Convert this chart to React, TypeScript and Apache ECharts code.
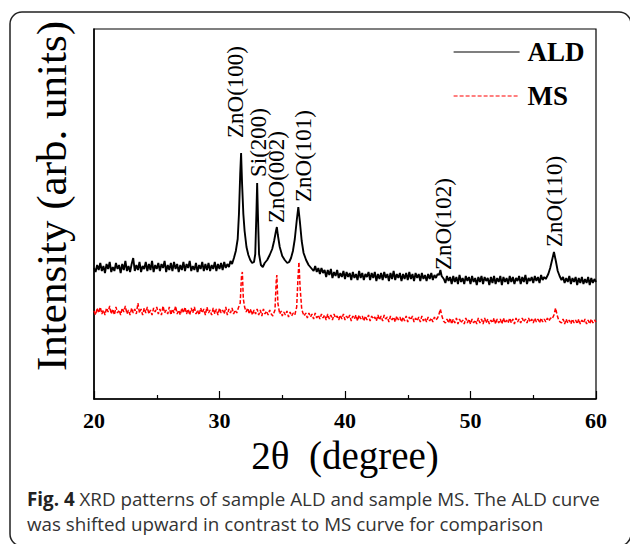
import React, { useEffect, useRef } from "react";
import * as echarts from "echarts";

// ALD curve (shifted upward): 2θ (degrees) and intensity (arb. units)
const aldTheta = [
  20.0, 20.125, 20.25, 20.375, 20.5, 20.625, 20.75, 20.875,
  21.0, 21.125, 21.25, 21.375, 21.5, 21.625, 21.75, 21.875,
  22.0, 22.125, 22.25, 22.375, 22.5, 22.625, 22.75, 22.875,
  23.0, 23.125, 23.25, 23.375, 23.5, 23.625, 23.75, 23.875,
  24.0, 24.125, 24.25, 24.375, 24.5, 24.625, 24.75, 24.875,
  25.0, 25.125, 25.25, 25.375, 25.5, 25.625, 25.75, 25.875,
  26.0, 26.125, 26.25, 26.375, 26.5, 26.625, 26.75, 26.875,
  27.0, 27.125, 27.25, 27.375, 27.5, 27.625, 27.75, 27.875,
  28.0, 28.125, 28.25, 28.375, 28.5, 28.625, 28.75, 28.875,
  29.0, 29.125, 29.25, 29.375, 29.5, 29.625, 29.75, 29.875,
  30.0, 30.125, 30.25, 30.375, 30.5, 30.625, 30.75, 30.875,
  31.0,
  31.15, 31.3, 31.45, 31.55, 31.65, 31.72, 31.8, 31.9,
  32.0, 32.15, 32.3, 32.45, 32.6, 32.75, 32.85, 32.95,
  33.0, 33.06, 33.15, 33.3, 33.45, 33.6, 33.8, 34.0,
  34.2, 34.35, 34.5, 34.57, 34.65, 34.8, 35.0, 35.2,
  35.4, 35.55, 35.7, 35.85, 36.0, 36.15, 36.28, 36.4,
  36.55, 36.7, 36.9, 37.1, 37.3,
  37.5, 37.625, 37.75, 37.875, 38.0, 38.125, 38.25, 38.375,
  38.5, 38.625, 38.75, 38.875, 39.0, 39.125, 39.25, 39.375,
  39.5, 39.625, 39.75, 39.875, 40.0, 40.125, 40.25, 40.375,
  40.5, 40.625, 40.75, 40.875, 41.0, 41.125, 41.25, 41.375,
  41.5, 41.625, 41.75, 41.875, 42.0, 42.125, 42.25, 42.375,
  42.5, 42.625, 42.75, 42.875, 43.0, 43.125, 43.25, 43.375,
  43.5, 43.625, 43.75, 43.875, 44.0, 44.125, 44.25, 44.375,
  44.5, 44.625, 44.75, 44.875, 45.0, 45.125, 45.25, 45.375,
  45.5, 45.625, 45.75, 45.875, 46.0, 46.125, 46.25, 46.375,
  46.5, 46.625, 46.75, 46.875, 47.0, 47.125, 47.25, 47.375,
  47.5, 47.6, 47.7, 47.875,
  48.0, 48.125, 48.25, 48.375, 48.5, 48.625, 48.75, 48.875,
  49.0, 49.125, 49.25, 49.375, 49.5, 49.625, 49.75, 49.875,
  50.0, 50.125, 50.25, 50.375, 50.5, 50.625, 50.75, 50.875,
  51.0, 51.125, 51.25, 51.375, 51.5, 51.625, 51.75, 51.875,
  52.0, 52.125, 52.25, 52.375, 52.5, 52.625, 52.75, 52.875,
  53.0, 53.125, 53.25, 53.375, 53.5, 53.625, 53.75, 53.875,
  54.0, 54.125, 54.25, 54.375, 54.5, 54.625, 54.75, 54.875,
  55.0, 55.125, 55.25, 55.375, 55.5, 55.625, 55.75, 55.875,
  56.0,
  56.2, 56.35, 56.5, 56.65, 56.8, 56.95, 57.1,
  57.25, 57.375, 57.5, 57.625, 57.75, 57.875, 58.0, 58.125,
  58.25, 58.375, 58.5, 58.625, 58.75, 58.875, 59.0, 59.125,
  59.25, 59.375, 59.5, 59.625, 59.75, 59.875, 60.0,
];
const aldIntensity = [
  131, 127, 134, 129, 136, 128, 133, 126,
  135, 130, 137, 127, 132, 128, 136, 130,
  134, 126, 135, 129, 138, 128, 133, 127,
  135, 141, 128, 134, 129, 137, 127, 133,
  130, 137, 128, 135, 129, 138, 127, 134,
  130, 136, 128, 135, 131, 138, 127, 134,
  129, 136, 128, 137, 130, 135, 127, 134,
  129, 137, 128, 135, 131, 138, 128, 133,
  129, 136, 127, 134, 130, 137, 128, 135,
  129, 136, 128, 134, 130, 137, 128, 135,
  130, 136, 129, 137, 131, 135, 132, 138,
  135,
  141, 148, 160, 185, 225, 246, 215, 185,
  168, 152, 144, 139, 136, 137, 145, 190,
  216, 185, 145, 134, 132, 136, 139, 144,
  150, 158, 168, 172, 164, 152, 143, 139,
  136, 137, 141, 148, 160, 178, 192, 178,
  158, 146, 139, 134, 131,
  128, 133, 127, 131, 125, 131, 126, 129,
  122, 129, 124, 130, 121, 127, 123, 129,
  121, 126, 122, 128, 120, 127, 122, 126,
  119, 127, 121, 125, 119, 128, 121, 126,
  119, 125, 122, 127, 119, 126, 121, 127,
  118, 125, 120, 126, 119, 127, 121, 125,
  118, 126, 120, 128, 119, 125, 121, 126,
  118, 125, 120, 126, 119, 127, 120, 125,
  118, 126, 121, 125, 118, 126, 120, 124,
  118, 125, 120, 126, 119, 124, 121, 125,
  124, 129, 123, 120,
  116, 123, 118, 122, 115, 123, 117, 122,
  115, 124, 117, 121, 115, 123, 118, 122,
  115, 123, 117, 121, 114, 122, 117, 123,
  115, 122, 118, 121, 114, 122, 116, 123,
  115, 121, 117, 123, 114, 122, 117, 121,
  115, 123, 117, 122, 115, 121, 118, 123,
  115, 122, 117, 124, 115, 121, 118, 122,
  116, 123, 118, 122, 116, 124, 119, 122,
  120,
  125, 131, 139, 147, 138, 128, 123,
  119, 122, 116, 121, 117, 123, 115, 121,
  117, 122, 114, 121, 116, 122, 115, 120,
  116, 122, 114, 121, 116, 120, 117,
];

// MS curve: 2θ (degrees) and intensity (arb. units)
const msTheta = [
  20.0, 20.125, 20.25, 20.375, 20.5, 20.625, 20.75, 20.875,
  21.0, 21.125, 21.25, 21.375, 21.5, 21.625, 21.75, 21.875,
  22.0, 22.125, 22.25, 22.375, 22.5, 22.625, 22.75, 22.875,
  23.0, 23.125, 23.25, 23.375, 23.5, 23.625, 23.75, 23.875,
  24.0, 24.125, 24.25, 24.375, 24.5, 24.625, 24.75, 24.875,
  25.0, 25.125, 25.25, 25.375, 25.5, 25.625, 25.75, 25.875,
  26.0, 26.125, 26.25, 26.375, 26.5, 26.625, 26.75, 26.875,
  27.0, 27.125, 27.25, 27.375, 27.5, 27.625, 27.75, 27.875,
  28.0, 28.125, 28.25, 28.375, 28.5, 28.625, 28.75, 28.875,
  29.0, 29.125, 29.25, 29.375, 29.5, 29.625, 29.75, 29.875,
  30.0, 30.125, 30.25, 30.375, 30.5, 30.625, 30.75, 30.875,
  31.0, 31.125, 31.25, 31.375, 31.5,
  31.65, 31.75, 31.82, 31.9, 32.0, 32.125, 32.25, 32.375,
  32.5, 32.625, 32.75, 32.875, 33.0, 33.125, 33.25, 33.375,
  33.5, 33.625, 33.75, 33.875, 34.0, 34.125, 34.25, 34.42,
  34.52, 34.57, 34.65, 34.8, 34.925, 35.0, 35.125, 35.25,
  35.375, 35.5, 35.625, 35.75, 35.875, 36.0, 36.15, 36.25,
  36.33, 36.42, 36.55, 36.65, 36.75, 36.875,
  37.0, 37.125, 37.25, 37.375, 37.5, 37.625, 37.75, 37.875,
  38.0, 38.125, 38.25, 38.375, 38.5, 38.625, 38.75, 38.875,
  39.0, 39.125, 39.25, 39.375, 39.5, 39.625, 39.75, 39.875,
  40.0, 40.125, 40.25, 40.375, 40.5, 40.625, 40.75, 40.875,
  41.0, 41.125, 41.25, 41.375, 41.5, 41.625, 41.75, 41.875,
  42.0, 42.125, 42.25, 42.375, 42.5, 42.625, 42.75, 42.875,
  43.0, 43.125, 43.25, 43.375, 43.5, 43.625, 43.75, 43.875,
  44.0, 44.125, 44.25, 44.375, 44.5, 44.625, 44.75, 44.875,
  45.0, 45.125, 45.25, 45.375, 45.5, 45.625, 45.75, 45.875,
  46.0, 46.125, 46.25, 46.375, 46.5, 46.625, 46.75, 46.875,
  47.0, 47.125, 47.25, 47.375,
  47.45, 47.6, 47.7, 47.85,
  48.0, 48.125, 48.25, 48.375, 48.5, 48.625, 48.75, 48.875,
  49.0, 49.125, 49.25, 49.375, 49.5, 49.625, 49.75, 49.875,
  50.0, 50.125, 50.25, 50.375, 50.5, 50.625, 50.75, 50.875,
  51.0, 51.125, 51.25, 51.375, 51.5, 51.625, 51.75, 51.875,
  52.0, 52.125, 52.25, 52.375, 52.5, 52.625, 52.75, 52.875,
  53.0, 53.125, 53.25, 53.375, 53.5, 53.625, 53.75, 53.875,
  54.0, 54.125, 54.25, 54.375, 54.5, 54.625, 54.75, 54.875,
  55.0, 55.125, 55.25, 55.375, 55.5, 55.625, 55.75, 55.875,
  56.0, 56.125, 56.25, 56.375,
  56.5, 56.65, 56.78, 56.9, 57.05,
  57.25, 57.375, 57.5, 57.625, 57.75, 57.875, 58.0, 58.125,
  58.25, 58.375, 58.5, 58.625, 58.75, 58.875, 59.0, 59.125,
  59.25, 59.375, 59.5, 59.625, 59.75, 59.875, 60.0,
];
const msIntensity = [
  88, 84, 91, 86, 92, 85, 89, 84,
  91, 87, 93, 85, 90, 84, 92, 86,
  89, 84, 91, 87, 93, 85, 89, 84,
  91, 86, 90, 85, 96, 86, 90, 84,
  91, 86, 92, 85, 89, 84, 91, 87,
  92, 85, 90, 84, 93, 86, 89, 85,
  92, 84, 90, 86, 93, 85, 89, 84,
  91, 86, 92, 85, 90, 84, 91, 86,
  92, 85, 89, 84, 91, 86, 90, 84,
  92, 86, 89, 84, 91, 85, 90, 84,
  91, 86, 89, 85, 92, 84, 90, 86,
  91, 85, 89, 86, 91,
  96, 122, 127, 100, 92, 87, 91, 85,
  90, 84, 89, 85, 90, 84, 89, 83,
  90, 85, 88, 84, 89, 85, 83, 89,
  118, 124, 96, 85, 88, 83, 87, 84,
  88, 82, 87, 83, 86, 84, 92, 120,
  137, 112, 90, 86, 83, 86,
  81, 86, 82, 85, 80, 86, 81, 84,
  80, 85, 81, 84, 79, 85, 80, 84,
  79, 85, 81, 83, 79, 84, 80, 85,
  79, 83, 80, 84, 78, 83, 80, 84,
  78, 84, 80, 83, 78, 83, 79, 84,
  78, 83, 80, 82, 78, 84, 79, 83,
  78, 84, 80, 82, 77, 83, 79, 82,
  77, 83, 79, 82, 77, 82, 78, 83,
  77, 82, 79, 83, 77, 81, 78, 82,
  77, 83, 78, 81, 77, 82, 78, 81,
  77, 82, 79, 81,
  83, 90, 84, 78,
  76, 80, 76, 81, 75, 80, 76, 81,
  75, 80, 76, 79, 75, 81, 76, 80,
  75, 80, 76, 79, 75, 81, 76, 80,
  75, 81, 76, 80, 75, 79, 76, 81,
  75, 80, 76, 80, 75, 81, 76, 79,
  76, 81, 76, 80, 75, 81, 77, 80,
  76, 81, 77, 80, 76, 81, 77, 80,
  76, 81, 77, 80, 76, 81, 77, 80,
  77, 81, 78, 81,
  80, 84, 91, 84, 78,
  76, 80, 75, 80, 76, 79, 75, 80,
  76, 79, 75, 80, 75, 79, 76, 80,
  75, 79, 75, 80, 76, 79, 77,
];

// Peak annotations (label anchor at the bottom of each rotated label)
const peakNames = ["ZnO(100)", "Si(200)", "ZnO(002)", "ZnO(101)", "ZnO(102)", "ZnO(110)"];
const peakLabelTheta = [31.29, 33.12, 34.58, 36.73, 47.81, 56.73];
const peakLabelBase = [261, 222, 176, 197, 129, 152];

const xTicks = { min: 20, max: 60, interval: 10 };

export default function App() {
  const ref = useRef<HTMLDivElement>(null);

  useEffect(() => {
    if (!ref.current) return;
    const chart = echarts.init(ref.current, undefined, { renderer: "svg" });
    const serif = "'Liberation Serif', 'Times New Roman', serif";
    const ald = aldTheta.map((t, i) => [t, aldIntensity[i]]);
    const ms = msTheta.map((t, i) => [t, msIntensity[i]]);

    chart.setOption({
      animation: false,
      backgroundColor: "#fff",
      textStyle: { fontFamily: serif, color: "#000" },
      title: {
        left: 22,
        top: 481,
        text: "{b|Fig. 4} XRD patterns of sample ALD and sample MS. The ALD curve\nwas shifted upward in contrast to MS curve for comparison",
        textStyle: {
          fontFamily: "'Open Sans', sans-serif",
          fontSize: 18.8,
          fontWeight: "normal",
          color: "#333",
          lineHeight: 25,
          rich: {
            b: {
              fontFamily: "'Open Sans', sans-serif",
              fontSize: 18.8,
              fontWeight: "bold",
              color: "#222",
              lineHeight: 25,
            },
          },
        },
      },
      graphic: [
        {
          type: "rect",
          shape: { x: 10, y: 12, width: 621, height: 534, r: 12 },
          style: { fill: "none", stroke: "#222", lineWidth: 1.5 },
          silent: true,
        },
      ],
      legend: {
        orient: "vertical",
        left: 448,
        top: 32,
        itemWidth: 66,
        itemHeight: 14,
        itemGap: 14,
        data: ["ALD", "MS"],
        itemStyle: { color: "rgba(0,0,0,0)", borderWidth: 0, opacity: 0 },
        lineStyle: { width: 1.2 },
        textStyle: {
          fontFamily: serif,
          fontSize: 27,
          fontWeight: "bold",
          color: "#000",
          lineHeight: 30,
          padding: [0, 0, 0, 3],
        },
      },
      grid: {
        left: 94,
        top: 29,
        right: 34,
        bottom: 145,
        show: true,
        borderColor: "#000",
        borderWidth: 1.2,
      },
      xAxis: {
        type: "value",
        min: xTicks.min,
        max: xTicks.max,
        interval: xTicks.interval,
        name: "2θ  (degree)",
        nameLocation: "middle",
        nameGap: 34,
        nameTextStyle: { fontFamily: serif, fontSize: 39, color: "#000" },
        axisLine: { show: true, lineStyle: { color: "#000", width: 1.5 } },
        axisTick: { show: true, inside: true, length: 8, lineStyle: { color: "#000", width: 1.2 } },
        minorTick: { show: true, splitNumber: 2, length: 4, lineStyle: { color: "#000", width: 1.2 } },
        splitLine: { show: false },
        axisLabel: { fontFamily: serif, fontSize: 22, fontWeight: "bold", color: "#000", margin: 10 },
      },
      yAxis: {
        type: "value",
        min: 0,
        max: 370,
        name: "Intensity (arb. units)",
        nameLocation: "middle",
        nameGap: 21,
        nameTextStyle: { fontFamily: serif, fontSize: 43, color: "#000", padding: [0, 0, 0, 36] },
        axisLine: { show: true, lineStyle: { color: "#000", width: 1.5 } },
        axisTick: { show: false },
        axisLabel: { show: false },
        splitLine: { show: false },
      },
      series: [
        {
          name: "ALD",
          type: "line",
          symbol: "none",
          data: ald,
          lineStyle: { color: "#000", width: 1.9 },
          itemStyle: { color: "#000" },
          markPoint: {
            symbol: "circle",
            symbolSize: 1,
            itemStyle: { color: "rgba(0,0,0,0)" },
            label: {
              show: true,
              position: "inside",
              rotate: 90,
              align: "left",
              verticalAlign: "middle",
              formatter: "{b}",
              fontFamily: serif,
              fontSize: 23,
              color: "#000",
            },
            data: peakNames.map((n, i) => ({ name: n, coord: [peakLabelTheta[i], peakLabelBase[i]] })),
          },
        },
        {
          name: "MS",
          type: "line",
          symbol: "none",
          data: ms,
          lineStyle: { color: "#ff0000", width: 1.5, type: [4, 2] },
          itemStyle: { color: "#ff0000" },
        },
      ],
    });
    return () => chart.dispose();
  }, []);

  return (
    <div
      ref={ref}
      style={{ position: "absolute", left: 0, top: 0, width: 630, height: 544, background: "#fff" }}
    />
  );
}
